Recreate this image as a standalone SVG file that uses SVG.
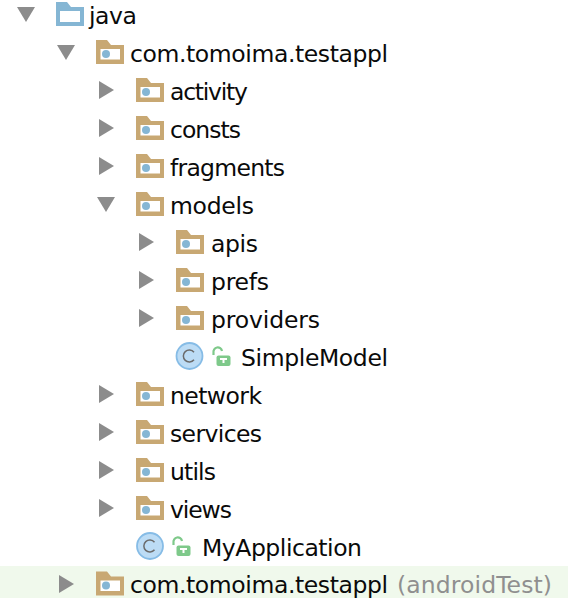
<svg xmlns="http://www.w3.org/2000/svg" width="568" height="598" viewBox="0 0 568 598">
<style>
text{font-family:"DejaVu Sans","Liberation Sans",sans-serif;font-size:23.500px;fill:#0a0a0a}
.dim{fill:#8f8f8f}
.arrow{fill:#8c8c8c}
</style>
<defs>
<g id="pkg"><path d="M0 0H11L15 5H28V24H0Z" fill="#c8a873"/><rect x="4.500" y="9" width="19.500" height="10.500" fill="#fff"/><circle cx="10" cy="14" r="4" fill="#85b6d4"/></g>
<path id="down" class="arrow" d="M0 0H18L9 15Z"/>
<path id="right" class="arrow" d="M0 0L15 9L0 18Z"/>
<g id="cls"><circle cx="14" cy="14" r="13" fill="#bcdcf5" stroke="#86bce6" stroke-width="1.800"/><path d="M18.500 10.200A6 6 0 1 0 18.500 17.800" fill="none" stroke="#6b6b6b" stroke-width="1.500"/></g>
<g id="lock"><path d="M1.500 7.500V5A4.200 4.200 0 0 1 10 3.500" fill="none" stroke="#7ec98a" stroke-width="2.200"/><rect x="4.500" y="8" width="14" height="10.500" rx="2" fill="#7ec98a"/><path d="M8 10.500H15V12.500H12.500V15.500H10.500V12.500H8Z" fill="#fff"/></g>
</defs>
<rect id="highlight" x="0" y="566" width="568" height="32" fill="#f0f9ec"/>
<g id="node-java"><use href="#down" x="17" y="7"/><path d="M56 2H67L71 7H84V26H56Z" fill="#85b6d4"/><rect x="60" y="11" width="20" height="11" fill="#fff"/><text x="89" y="24" textLength="48">java</text></g>
<g id="node-pkg"><use href="#down" x="57" y="45"/><use href="#pkg" x="96" y="40"/><text x="130" y="62" textLength="258">com.tomoima.testappl</text></g>
<g id="node-activity"><use href="#right" x="99" y="81"/><use href="#pkg" x="136" y="78"/><text x="170" y="100" textLength="78">activity</text></g>
<g id="node-consts"><use href="#right" x="99" y="119"/><use href="#pkg" x="136" y="116"/><text x="170" y="138" textLength="71">consts</text></g>
<g id="node-fragments"><use href="#right" x="99" y="157"/><use href="#pkg" x="136" y="154"/><text x="170" y="176" textLength="115">fragments</text></g>
<g id="node-models"><use href="#down" x="97" y="197"/><use href="#pkg" x="136" y="192"/><text x="170" y="214" textLength="84">models</text></g>
<g id="node-apis"><use href="#right" x="139" y="233"/><use href="#pkg" x="176" y="230"/><text x="211" y="252" textLength="47">apis</text></g>
<g id="node-prefs"><use href="#right" x="139" y="271"/><use href="#pkg" x="176" y="268"/><text x="211" y="290" textLength="58">prefs</text></g>
<g id="node-providers"><use href="#right" x="139" y="309"/><use href="#pkg" x="176" y="306"/><text x="211" y="328" textLength="109">providers</text></g>
<g id="node-simplemodel"><use href="#cls" x="175.500" y="342"/><use href="#lock" x="212" y="347.500"/><text x="241" y="366" textLength="147">SimpleModel</text></g>
<g id="node-network"><use href="#right" x="99" y="385"/><use href="#pkg" x="136" y="382"/><text x="170" y="404" textLength="92">network</text></g>
<g id="node-services"><use href="#right" x="99" y="423"/><use href="#pkg" x="136" y="420"/><text x="170" y="442" textLength="92">services</text></g>
<g id="node-utils"><use href="#right" x="99" y="461"/><use href="#pkg" x="136" y="458"/><text x="170" y="480" textLength="46">utils</text></g>
<g id="node-views"><use href="#right" x="99" y="499"/><use href="#pkg" x="136" y="496"/><text x="170" y="518" textLength="62">views</text></g>
<g id="node-myapplication"><use href="#cls" x="136" y="532"/><use href="#lock" x="172" y="537.500"/><text x="202" y="556" textLength="160">MyApplication</text></g>
<g id="node-androidtest"><use href="#right" x="59" y="575"/><use href="#pkg" x="96" y="571.500"/><text x="130" y="593" textLength="258">com.tomoima.testappl</text><text class="dim" x="397" y="593" textLength="155">(androidTest)</text></g>
<g id="connectors"/>
</svg>
